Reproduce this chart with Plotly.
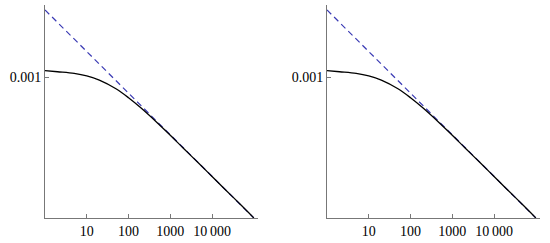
import plotly.graph_objects as go
from plotly.subplots import make_subplots

# data
x_vals = [1, 2, 5, 10, 20, 50, 100, 200, 500, 1000, 2000, 5000, 10000, 20000, 50000, 100000]
exact_vals = [0.001094, 0.001076, 0.001051, 0.001015, 0.000958, 0.000850, 0.000751, 0.000651,
              0.000528, 0.000447, 0.000376, 0.000300, 0.0002528, 0.0002126, 0.0001697, 0.0001425]
asym_x = [1, 10, 100, 1000, 10000, 100000]
asym_vals = [0.00253, 0.001423, 0.000800, 0.000450, 0.000253, 0.0001423]

x_tickvals = [10, 100, 1000, 10000]
x_ticktext = ["10", "100", "1000", "10\u2009000"]
y_tickvals = [0.001]
y_ticktext = ["0.001"]

fig = make_subplots(rows=1, cols=2)

for col in (1, 2):
    fig.add_trace(go.Scatter(x=asym_x, y=asym_vals, mode="lines",
                             line=dict(color="#3a3ab4", width=1.2, dash="6px,4px"),
                             showlegend=False), row=1, col=col)
    fig.add_trace(go.Scatter(x=x_vals, y=exact_vals, mode="lines", line_shape="spline",
                             line=dict(color="black", width=1.3),
                             showlegend=False), row=1, col=col)

font = dict(family="Liberation Serif", size=14, color="black")
axis_common = dict(type="log", showgrid=False, zeroline=False, showline=True,
                   linecolor="#777777", linewidth=1, ticks="inside", ticklen=4,
                   tickcolor="#777777", tickfont=font)

fig.update_layout(
    width=550, height=243, margin=dict(l=0, r=0, t=0, b=0),
    paper_bgcolor="white", plot_bgcolor="white",
    xaxis=dict(domain=[45/550, 258/550], range=[0, 5.1], tickvals=x_tickvals,
               ticktext=x_ticktext, anchor="y", **axis_common),
    xaxis2=dict(domain=[327/550, 540/550], range=[0, 5.1], tickvals=x_tickvals,
                ticktext=x_ticktext, anchor="y2", **axis_common),
    yaxis=dict(domain=[25/243, 238/243], range=[-3.847, -2.567], tickvals=y_tickvals,
               ticktext=y_ticktext, anchor="x", **axis_common),
    yaxis2=dict(domain=[25/243, 238/243], range=[-3.847, -2.567], tickvals=y_tickvals,
                ticktext=y_ticktext, anchor="x2", **axis_common),
)

fig.write_html("out.html", config={"displayModeBar": False},
               post_script="document.body.style.margin='0';document.body.style.padding='0';")
